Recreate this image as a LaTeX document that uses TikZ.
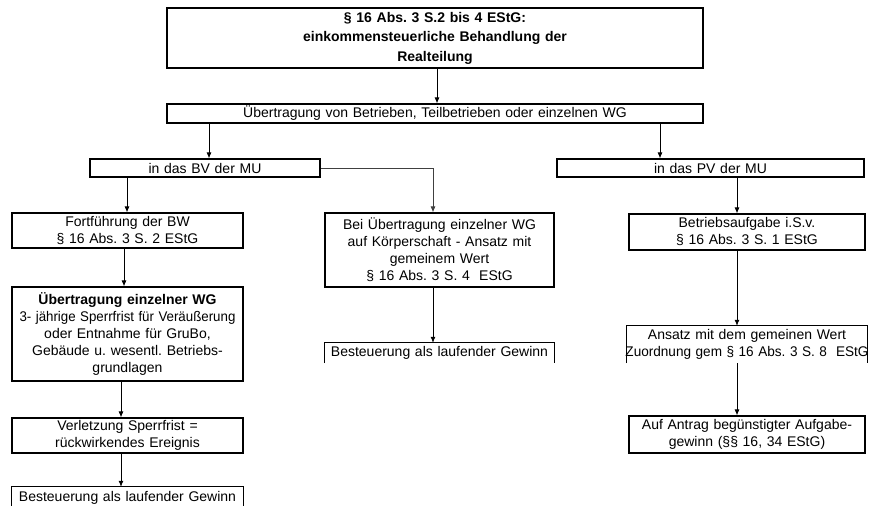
\documentclass[tikz,border=0pt]{standalone}
\usepackage{fontspec}
\setmainfont{Liberation Sans}
\usetikzlibrary{arrows.meta}
\frenchspacing
\newcommand{\fsnorm}{\fontsize{14}{17}\selectfont\frenchspacing}
\newcommand{\fstop}{\fontsize{14}{19.5}\selectfont\bfseries\frenchspacing}
\tikzset{
  boxfr/.style={draw, line width=1.2pt, inner sep=0pt, align=center, font=\fsnorm},
  txtonly/.style={inner sep=0pt, align=center, font=\fsnorm},
  frame/.style={line width=1.2pt},
  arr/.style={-{Latex[length=6pt,width=5pt]}, line width=0.8pt},
}
\begin{document}
\begin{tikzpicture}[x=1pt,y=-1pt]
\useasboundingbox (0,0) rectangle (871,506);
% boxes
\node[boxfr, font=\fstop, text width=536pt, minimum height=60pt] (top) at (435,38)
  {§ 16 Abs. 3 S.2 bis 4 EStG:\\ einkommensteuerliche Behandlung der\\ Realteilung};
\node[boxfr, text width=536pt, minimum height=19pt] (b2) at (435,113.5)
  {Übertragung von Betrieben, Teilbetrieben oder einzelnen WG};
\node[boxfr, text width=230pt, minimum height=18pt] (bv) at (205,168) {in das BV der MU};
\node[boxfr, text width=307pt, minimum height=18pt] (pv) at (710.5,168) {in das PV der MU};
\node[boxfr, text width=231pt, minimum height=35pt] (fort) at (127.5,230.5)
  {Fortführung der BW\\ § 16 Abs. 3 S. 2 EStG};
\node[boxfr, text width=231pt, minimum height=94pt] (ueb) at (127.5,334)
  {\textbf{Übertragung einzelner WG}\\ \scalebox{0.95}[1]{3- jährige Sperrfrist für Veräußerung}\\ oder Entnahme für GruBo,\\ Gebäude u. wesentl. Betriebs-\\ grundlagen};
\node[boxfr, text width=231pt, minimum height=35pt] (verl) at (127.5,435.5)
  {Verletzung Sperrfrist =\\ rückwirkendes Ereignis};
\node[txtonly, text width=231pt, minimum height=22pt] (best1) at (127.5,498)
  {Besteuerung als laufender Gewinn};
\node[boxfr, text width=229pt, minimum height=74pt] (mid) at (439.5,250)
  {Bei Übertragung einzelner WG\\ auf Körperschaft - Ansatz mit\\ gemeinem Wert\\ § 16 Abs. 3 S. 4\ \ EStG};
\node[txtonly, text width=229pt, minimum height=20pt] (best2) at (439.5,353)
  {Besteuerung als laufender Gewinn};
\node[boxfr, text width=236pt, minimum height=36pt] (betr) at (747,232)
  {Betriebsaufgabe i.S.v.\\ § 16 Abs. 3 S. 1 EStG};
\node[txtonly, text width=256pt, minimum height=37pt] (ans) at (747,344.5)
  {Ansatz mit dem gemeinen Wert\\ \scalebox{0.97}[1]{Zuordnung gem § 16 Abs. 3 S. 8\ \ EStG}};
\node[boxfr, text width=236pt, minimum height=37pt] (auf) at (747,434.5)
  {Auf Antrag begünstigter Aufgabe-\\ gewinn (§§ 16, 34 EStG)};
% open frames (no bottom edge)
\draw[frame] (best1.west |- 0,506) -- (best1.north west) -- (best1.north east) -- (best1.east |- 0,506);
\draw[frame] (best2.south west) -- (best2.north west) -- (best2.north east) -- (best2.south east);
\draw[frame] ([xshift=8pt]ans.south west) -- ([xshift=8pt]ans.north west) -- ([xshift=-8pt]ans.north east) -- ([xshift=-8pt]ans.south east);
% connector columns
\coordinate (cl) at (209,0);
\coordinate (cr) at (660,0);
\coordinate (cm) at (433,0);
\coordinate (ca) at (127,0);
\coordinate (cb) at (124,0);
\coordinate (cc) at (121,0);
\coordinate (cd) at (737,0);
% connectors
\draw[arr] (top.south -| 437,0) -- (b2.north -| 437,0);
\draw[arr] (b2.south -| cl) -- (bv.north -| cl);
\draw[arr] (b2.south -| cr) -- (pv.north -| cr);
\draw[arr] (bv.south -| ca) -- (fort.north -| ca);
\draw[arr, draw=black!75] (bv.east) -| (mid.north -| cm);
\draw[arr] (fort.south -| cb) -- (ueb.north -| cb);
\draw[arr] (ueb.south -| cc) -- (verl.north -| cc);
\draw[arr] (verl.south -| cc) -- (best1.north -| cc);
\draw[arr] (mid.south -| cm) -- (best2.north -| cm);
\draw[arr] (pv.south -| cd) -- (betr.north -| cd);
\draw[arr] (betr.south -| cd) -- (ans.north -| cd);
\draw[arr] (ans.south -| cd) -- (auf.north -| cd);
\end{tikzpicture}
\end{document}
